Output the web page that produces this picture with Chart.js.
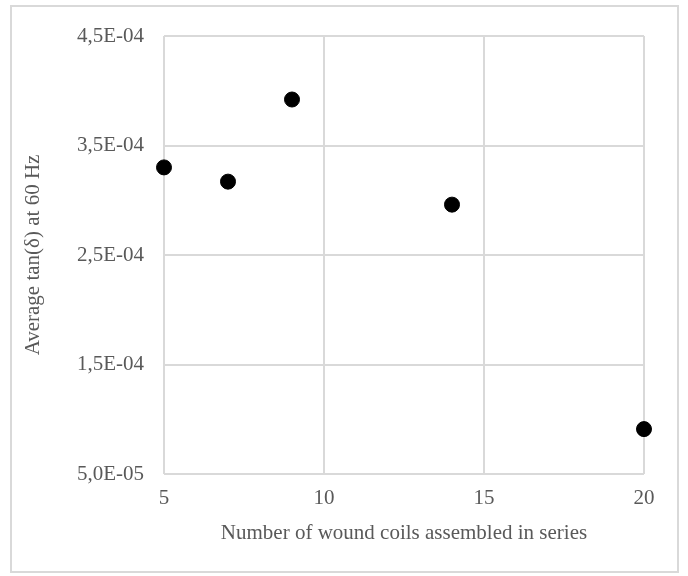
<!DOCTYPE html>
<html>
<head>
<meta charset="utf-8">
<script src="https://cdn.jsdelivr.net/npm/chart.js@4/dist/chart.umd.min.js"></script>
<style>
  html, body { margin: 0; padding: 0; background: #ffffff; }
  #wrap { width: 688px; height: 576px; position: relative; }
</style>
</head>
<body>
<div id="wrap"><canvas id="c" width="688" height="576"></canvas></div>
<script>
// Data
const coilCounts = [5, 7, 9, 14, 20];
const avgTanDelta = [3.30e-4, 3.17e-4, 3.92e-4, 2.96e-4, 0.91e-4];
const xTicks = [5, 10, 15, 20];
const yTicks = [5.0e-5, 1.5e-4, 2.5e-4, 3.5e-4, 4.5e-4];
const xTitle = 'Number of wound coils assembled in series';
const yTitle = 'Average tan(\u03B4) at 60 Hz';

function fmtSci(v) {
  const s = v.toExponential(1); // e.g. "4.5e-4"
  const m = s.match(/^(-?[\d.]+)e([+-])(\d+)$/);
  if (!m) return s;
  const exp = m[3].padStart(2, '0');
  return m[1].replace('.', ',') + 'E' + m[2] + exp;
}

const points = coilCounts.map((x, i) => ({ x: x, y: avgTanDelta[i] }));

const frame = {
  id: 'frame',
  beforeDraw(chart) {
    const ctx = chart.ctx;
    ctx.save();
    ctx.fillStyle = '#ffffff';
    ctx.fillRect(0, 0, chart.width, chart.height);
    ctx.strokeStyle = '#d9d9d9';
    ctx.lineWidth = 2;
    ctx.strokeRect(11, 6, 667, 566);
    ctx.restore();
  }
};

const font = { family: "'Liberation Serif', 'Times New Roman', serif", size: 21 };
const txt = '#595959';
const gridCol = '#d9d9d9';

new Chart(document.getElementById('c'), {
  type: 'scatter',
  data: {
    datasets: [{
      data: points,
      backgroundColor: '#000000',
      borderColor: '#000000',
      pointRadius: 7.5,
      pointHoverRadius: 7.5,
      showLine: false,
      clip: false
    }]
  },
  options: {
    responsive: false,
    animation: false,
    devicePixelRatio: 1,
    layout: { padding: { left: 12, top: 36, right: 44, bottom: 0 } },
    plugins: { legend: { display: false }, tooltip: { enabled: false } },
    scales: {
      x: {
        type: 'linear',
        min: 5, max: 20,
        afterFit(scale) { scale.height = 102; },
        afterBuildTicks(scale) { scale.ticks = xTicks.map(v => ({ value: v })); },
        ticks: { color: txt, font: font, padding: 12, maxRotation: 0, callback: v => String(v) },
        grid: { color: gridCol, lineWidth: 2, drawTicks: false },
        border: { display: false },
        title: { display: true, text: xTitle, color: txt, font: font, padding: { top: 0, bottom: 30 } }
      },
      y: {
        type: 'linear',
        min: 5.0e-5, max: 4.5e-4,
        afterFit(scale) { scale.width = 152; },
        afterBuildTicks(scale) { scale.ticks = yTicks.map(v => ({ value: v })); },
        ticks: { color: txt, font: font, padding: 20, callback: v => fmtSci(v) },
        grid: { color: gridCol, lineWidth: 2, drawTicks: false },
        border: { display: false },
        title: { display: true, text: yTitle, color: txt, font: font, padding: { top: 9, bottom: 0 } }
      }
    }
  },
  plugins: [frame]
});
</script>
</body>
</html>
